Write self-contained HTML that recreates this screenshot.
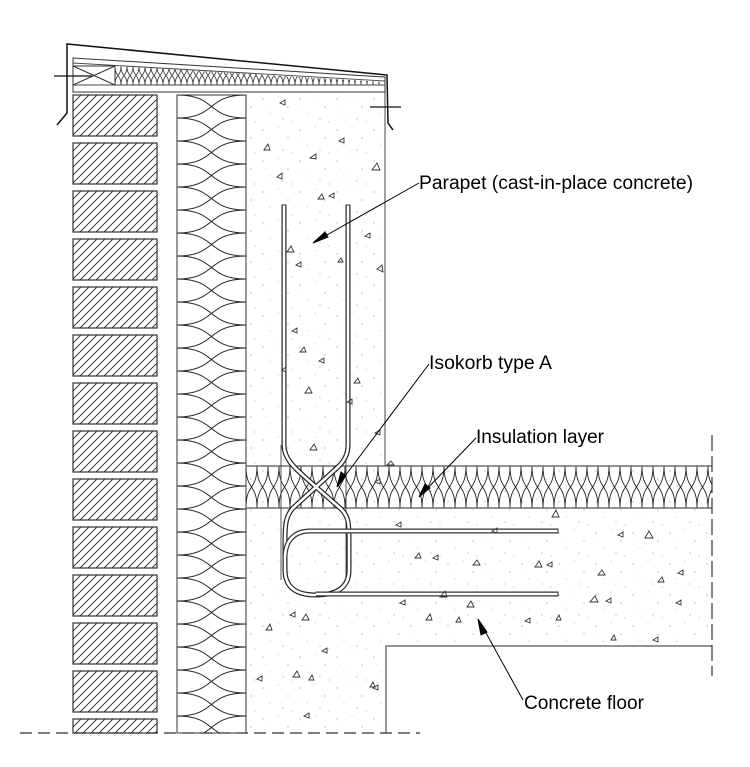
<!DOCTYPE html>
<html><head><meta charset="utf-8"><style>
html,body{margin:0;padding:0;background:#fff;}
svg{display:block;}
text{font-family:"Liberation Sans",Arial,sans-serif;font-size:19px;fill:#000;}
</style></head><body>
<svg width="750" height="767" viewBox="0 0 750 767" xmlns="http://www.w3.org/2000/svg">
<defs>
<pattern id="hatch" patternUnits="userSpaceOnUse" width="8" height="8">
<path d="M-1,9 L9,-1 M-5,5 L5,-5 M3,13 L13,3" stroke="#222" stroke-width="0.9"/>
</pattern>
<pattern id="insV" patternUnits="userSpaceOnUse" x="177" y="95" width="69" height="46">
<path d="M0,0 C40,0 29,23 69,23 C29,23 40,46 0,46 M69,0 C29,0 40,23 0,23 C40,23 29,46 69,46" fill="none" stroke="#222" stroke-width="1"/>
</pattern>
<pattern id="insH" patternUnits="userSpaceOnUse" x="246" y="466" width="22" height="42">
<path d="M0,0 C0,25 11,17 11,42 C11,17 22,25 22,0 M0,42 C0,17 11,25 11,0 C11,25 22,17 22,42" fill="none" stroke="#222" stroke-width="0.9"/>
</pattern>
<pattern id="insC" patternUnits="userSpaceOnUse" x="115" y="66" width="12" height="19">
<path d="M0,0 C0,11 6,8 6,19 C6,8 12,11 12,0 M0,19 C0,8 6,11 6,0 C6,11 12,8 12,19" fill="none" stroke="#333" stroke-width="0.8"/>
</pattern>
<pattern id="dots" patternUnits="userSpaceOnUse" width="37" height="31">
<circle cx="4" cy="6" r="0.6" fill="#999"/><circle cx="19" cy="3" r="0.5" fill="#aaa"/>
<circle cx="29" cy="14" r="0.6" fill="#999"/><circle cx="11" cy="21" r="0.5" fill="#aaa"/>
<circle cx="24" cy="26" r="0.6" fill="#aaa"/><circle cx="33" cy="29" r="0.5" fill="#999"/>
<circle cx="7" cy="14" r="0.4" fill="#bbb"/>
</pattern>
</defs>

<path d="M246,92 L385,92 L385,466 L712,466 L712,646 L386,646 L386,733 L246,733 Z" fill="url(#dots)"/>
<path d="M385,92 L385,466" stroke="#666" stroke-width="1.2"/>
<path d="M386,733 L386,646 L712,646" fill="none" stroke="#555" stroke-width="1.2"/>

<g stroke="#333" stroke-width="1.2" fill="url(#hatch)">
<rect x="73" y="95" width="84" height="41"/><rect x="73" y="143" width="84" height="41"/>
<rect x="73" y="191" width="84" height="41"/><rect x="73" y="239" width="84" height="41"/>
<rect x="73" y="287" width="84" height="41"/><rect x="73" y="335" width="84" height="41"/>
<rect x="73" y="383" width="84" height="41"/><rect x="73" y="431" width="84" height="41"/>
<rect x="73" y="479" width="84" height="41"/><rect x="73" y="527" width="84" height="41"/>
<rect x="73" y="575" width="84" height="41"/><rect x="73" y="623" width="84" height="41"/>
<rect x="73" y="671" width="84" height="41"/>
</g>
<rect x="73" y="719" width="84" height="14" fill="url(#hatch)" stroke="#333" stroke-width="1.2"/>

<rect x="177" y="95" width="69" height="638" fill="url(#insV)" stroke="#333" stroke-width="1"/>

<rect x="246" y="466" width="466" height="42" fill="url(#insH)"/>
<path d="M246,466 L712,466 M246,508 L712,508" stroke="#555" stroke-width="1.2"/>

<path d="M57,125 L67,113 L67,44 L387,75 L388,123 L393,130" fill="none" stroke="#111" stroke-width="1.5"/>
<path d="M73,92 L73,58 L385,77 L385,92 Z" fill="#fff" stroke="#333" stroke-width="1"/>
<path d="M115,66 L385,82 L385,85 L115,85 Z" fill="url(#insC)"/>
<path d="M73,63 L385,81 M73,85 L385,85" stroke="#444" stroke-width="0.9" fill="none"/>
<path d="M73,66 L115,66 L115,85 M73,66 L115,85 M73,85 L115,66" stroke="#333" stroke-width="1" fill="none"/>
<path d="M54,76 L92,76 M370,107 L401,107" stroke="#111" stroke-width="1.2"/>

<path d="M281,445 L281,580 M346,445 L346,580" stroke="#444" stroke-width="0.9"/>

<g fill="none" stroke-linejoin="round">
<path d="M284,205 L284,445 C284,462 300,472 316,487 L340,508 C349,516 349,524 349,540 L349,570 C349,588 336,595 316,595 C297,595 285,588 285,570 L285,540 C285,524 286,516 293,508 L316,487 L339,466 C346,459 348,452 348,445 L348,205" stroke="#222" stroke-width="5"/>
<path d="M284,205 L284,445 C284,462 300,472 316,487 L340,508 C349,516 349,524 349,540 L349,570 C349,588 336,595 316,595 C297,595 285,588 285,570 L285,540 C285,524 286,516 293,508 L316,487 L339,466 C346,459 348,452 348,445 L348,205" stroke="#fff" stroke-width="2.6"/>
<path d="M558,531 L310,531 C295,531 285,540 285,558" stroke="#333" stroke-width="5"/>
<path d="M558,531 L310,531 C295,531 285,540 285,558" stroke="#fff" stroke-width="2.6"/>
<path d="M558,594 L316,594" stroke="#333" stroke-width="5"/>
<path d="M558,594 L316,594" stroke="#fff" stroke-width="2.6"/>
<path d="M558,528.5 L558,533.5 M558,591.5 L558,596.5 M281.5,205 L286.5,205 M345.5,205 L350.5,205" stroke="#333" stroke-width="1"/>
</g>

<g fill="none" stroke="#333" stroke-width="0.9">
<path d="M285,100 l-5,3 l5,2 z M264,150 l4,-6 l2,6 z M310,158 l6,-4 l0,5 z M344,138 l-5,3 l5,2z M277,177 l5,-4 l0,6z M372,170 l5,-7 l3,7z M334,193 l-5,3 l5,2z M318,199 l4,-5 l2,5z M370,233 l-5,3 l5,2z M287,252 l4,-6 l3,6z M301,262 l-5,3 l5,2z M338,262 l3,-4 l2,4z M382,265 l-5,4 l6,3z M300,352 l4,-5 l2,5z M324,358 l-5,3 l5,2z M297,328 l-5,3 l5,2z M305,393 l4,-6 l3,6z M286,367 l-4,3 l4,2z M310,450 l4,-6 l3,6z M352,399 l-5,3 l5,2z M354,383 l4,-5 l2,5z M380,430 l-5,3 l5,2z M387,465 l4,-4 l3,4z M380,479 l-5,3 l5,2z M401,522 l-5,3 l5,2z M552,517 l4,-7 l3,7z M497,528 l-5,3 l5,2z M623,532 l-5,3 l5,2z M645,538 l4,-7 l4,7z M415,558 l4,-5 l2,5z M438,555 l-5,3 l5,2z M473,565 l4,-5 l3,5z M535,567 l4,-6 l3,6z M552,562 l-5,3 l5,2z M598,575 l4,-5 l3,5z M683,570 l-5,3 l5,2z M658,582 l4,-5 l2,5z M440,597 l5,-6 l2,6z M405,600 l-5,3 l5,2z M467,607 l4,-6 l3,6z M590,602 l5,-6 l3,6z M611,598 l-5,3 l5,2z M681,600 l-5,3 l5,2z M556,620 l3,-5 l2,5z M530,618 l-5,3 l5,2z M426,620 l4,-6 l2,6z M456,622 l3,-5 l2,5z M611,640 l3,-5 l2,5z M658,637 l-5,3 l5,2z M295,612 l-5,3 l5,2z M302,620 l4,-6 l3,6z M327,648 l-5,3 l5,2z M293,677 l4,-6 l3,6z M309,680 l3,-5 l2,5z M378,685 l-5,3 l5,2z M370,687 l3,-5 l2,5z M309,713 l-5,3 l5,2z M262,676 l-5,3 l5,2z M266,630 l4,-6 l2,6z"/>
</g>

<path d="M20,733 L420,733" stroke="#333" stroke-width="1.2" stroke-dasharray="12,6"/>
<path d="M712,435 L712,676" stroke="#333" stroke-width="1.2" stroke-dasharray="16,5"/>

<g stroke="#000" stroke-width="1" fill="#000">
<path d="M419,183 L318,240" fill="none"/><path d="M313,243 L325,232 L328,237 Z"/>
<path d="M429,364 L339,484" fill="none"/><path d="M337,487 L341,472 L346,476 Z"/>
<path d="M476,438 L422,494" fill="none"/><path d="M419,497 L425,484 L430,488 Z"/>
<path d="M523,700 L480,622" fill="none"/><path d="M478,619 L487,632 L481,635 Z"/>
</g>

<text x="419" y="189" textLength="274" lengthAdjust="spacingAndGlyphs">Parapet (cast-in-place concrete)</text>
<text x="429" y="369" textLength="123" lengthAdjust="spacingAndGlyphs">Isokorb type A</text>
<text x="476" y="443" textLength="128" lengthAdjust="spacingAndGlyphs">Insulation layer</text>
<text x="524" y="709" textLength="120" lengthAdjust="spacingAndGlyphs">Concrete floor</text>
</svg>
</body></html>
